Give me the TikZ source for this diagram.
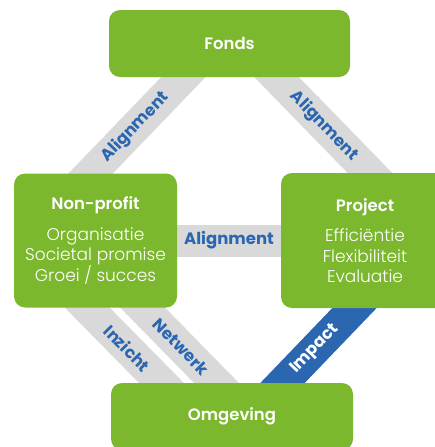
\documentclass[tikz,border=0pt]{standalone}
\usepackage{fontspec}
\setmainfont{Poppins}
\newfontfamily\lightfont{Poppins}[UprightFont=* Light]
\usetikzlibrary{backgrounds}
\definecolor{boxgreen}{HTML}{7BB82E}
\definecolor{bandgrey}{HTML}{D9D9D9}
\definecolor{linkblue}{HTML}{2B67B1}
\newcommand{\titlefont}{\bfseries\fontsize{16.5}{18}\selectfont}
\newcommand{\bodyfont}{\lightfont\fontsize{17}{20.5}\selectfont}
\tikzset{
    block/.style={fill=boxgreen,rounded corners=11pt,text=white,align=center,inner sep=0pt,font=\bodyfont},
    band/.style={line width=32pt,draw=bandgrey,shorten <=-20pt,shorten >=-20pt},
    bandlabel/.style={text=linkblue,font=\titlefont,sloped,pos=#1},
    bandlabel/.default=0.5
}
\begin{document}
\begin{tikzpicture}[x=1pt,y=-1pt]
        \useasboundingbox (0,0) rectangle (435,447);
        \clip (0,0) rectangle (435,447);
        %% Boxes
        \node[block,minimum width=241pt,minimum height=67pt] (fonds) at (229.5,43.5) {\titlefont Fonds};
        \node[block,minimum width=163pt,minimum height=134pt] (nonprofit) at (95.5,240.5)
            {{\titlefont Non-profit}\\[10pt]Organisatie\\Societal promise\\Groei / succes};
        \node[block,minimum width=168pt,minimum height=135pt] (project) at (365,240.5)
            {{\titlefont Project}\\[10pt]Efficiëntie\\Flexibiliteit\\Evaluatie};
        \node[block,minimum width=242pt,minimum height=67pt] (omgeving) at (232,416.5) {\titlefont Omgeving};
        %% Bands
        \begin{scope}[on background layer]
        \draw[band] ([xshift=74.5pt]fonds.south west) -- ([xshift=77pt]nonprofit.north west)
            node[bandlabel=0.52] {Alignment};
        \draw[band] ([xshift=-73.5pt]fonds.south east) -- ([xshift=89pt]project.north west)
            node[bandlabel=0.51] {Alignment};
        \draw[band,shorten <=-5pt,shorten >=-5pt] (nonprofit.east) -- (project.west)
            node[bandlabel] {Alignment};
        \draw[band] ([xshift=73.5pt]nonprofit.south west) -- ([xshift=50.5pt]omgeving.north west)
            node[bandlabel=0.54] {Inzicht};
        \draw[band] ([xshift=-34.5pt]nonprofit.south east) -- ([xshift=105.5pt]omgeving.north west)
            node[bandlabel=0.52] {Netwerk};
        \draw[band,draw=linkblue] ([xshift=73.5pt]project.south west) -- ([xshift=-70.5pt]omgeving.north east)
            node[bandlabel=0.55,text=white] {Impact};
        \end{scope}
\end{tikzpicture}
\end{document}
